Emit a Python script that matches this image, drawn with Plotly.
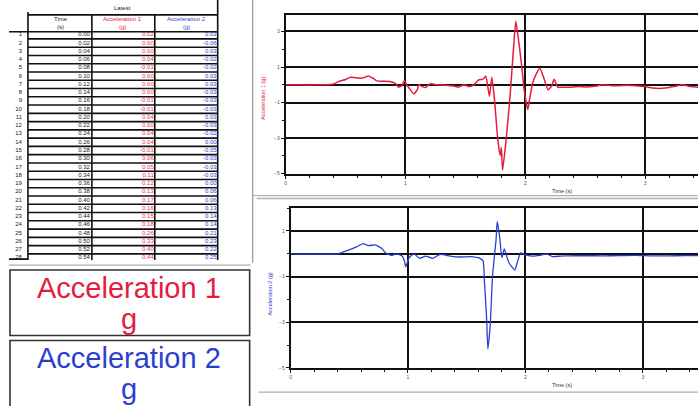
import plotly.graph_objects as go

W, H = 698, 406
FONT = "Liberation Sans, Arial, sans-serif"
RED = "#e41c3e"
BLUE = "#2a3fd0"

# ---------------- table data ----------------
row_nums = [str(i) for i in range(1, 29)]
time_col = [0.00, 0.02, 0.04, 0.06, 0.08, 0.10, 0.12, 0.14, 0.16, 0.18,
            0.20, 0.22, 0.24, 0.26, 0.28, 0.30, 0.32, 0.34, 0.36, 0.38,
            0.40, 0.42, 0.44, 0.46, 0.48, 0.50, 0.52, 0.54]
acc1_col = [0.02, 0.00, 0.00, 0.04, -0.01, 0.00, 0.00, 0.00, -0.01, -0.01,
            0.04, 0.00, 0.04, 0.04, -0.01, 0.06, 0.05, 0.11, 0.12, 0.13,
            0.17, 0.16, 0.15, 0.18, 0.26, 0.33, 0.40, 0.44]
acc2_col = [0.03, -0.06, 0.03, -0.02, -0.02, 0.03, 0.03, -0.03, -0.03, -0.03,
            0.03, -0.03, -0.02, 0.00, -0.05, -0.03, -0.03, -0.03, 0.00, 0.06,
            0.06, 0.13, 0.14, 0.14, 0.21, 0.23, 0.22, 0.25]

# ---------------- chart data ----------------
t1 = [0.00, 0.32, 0.40, 0.44, 0.50, 0.54, 0.58, 0.62, 0.66, 0.69,
      0.73, 0.76, 0.80, 0.87, 0.92, 0.94, 0.97, 0.99, 1.01, 1.03,
      1.07, 1.10, 1.11, 1.14, 1.17, 1.19, 1.22, 1.26, 1.30, 1.37,
      1.41, 1.44, 1.49, 1.53, 1.57, 1.61, 1.65, 1.67, 1.70, 1.72,
      1.74, 1.77, 1.79, 1.80, 1.81, 1.84, 1.87, 1.90, 1.92, 1.94,
      1.97, 1.99, 2.02, 2.03, 2.06, 2.09, 2.12, 2.15, 2.19, 2.22,
      2.24, 2.27, 2.32, 2.37, 2.45, 2.50, 2.58, 2.64, 2.72, 2.78,
      2.85, 2.92, 3.00, 3.06, 3.14, 3.20, 3.25, 3.31, 3.38, 3.44]
a1 = [0.00, 0.00, 0.05, 0.18, 0.30, 0.43, 0.40, 0.37, 0.42, 0.50,
      0.37, 0.22, 0.20, 0.19, 0.05, -0.13, -0.05, 0.24, 0.00, -0.18,
      -0.52, -0.26, 0.00, -0.10, -0.15, 0.00, 0.06, 0.00, 0.00, -0.05,
      -0.08, -0.13, 0.00, -0.10, 0.00, 0.28, 0.33, 0.50, -0.65, 0.43,
      -0.65, -3.06, -3.98, -3.52, -4.81, -3.06, -0.83, 1.94, 3.57, 2.69,
      1.02, -0.28, -1.39, -1.02, 0.09, 0.60, 0.93, 0.46, -0.28, -0.05,
      0.31, -0.13, -0.13, -0.13, -0.10, -0.12, -0.08, 0.00, -0.05, -0.05,
      -0.03, -0.05, -0.10, -0.18, -0.20, -0.15, -0.08, 0.00, -0.10, -0.13]

t2 = [0.00, 0.40, 0.45, 0.51, 0.56, 0.62, 0.66, 0.72, 0.78, 0.81,
      0.86, 0.90, 0.95, 0.97, 0.98, 1.01, 1.05, 1.10, 1.15, 1.21,
      1.27, 1.36, 1.44, 1.53, 1.61, 1.64, 1.65, 1.67, 1.68, 1.70,
      1.72, 1.75, 1.76, 1.78, 1.80, 1.82, 1.84, 1.86, 1.91, 1.93,
      1.96, 1.99, 2.06, 2.12, 2.18, 2.23, 2.30, 2.37, 2.50, 2.66,
      2.80, 2.94, 3.08, 3.22, 3.35, 3.47]
a2 = [0.00, 0.00, 0.08, 0.19, 0.30, 0.45, 0.36, 0.39, 0.22, 0.04,
      -0.07, 0.00, -0.10, -0.32, -0.57, -0.17, 0.00, -0.20, -0.10, -0.20,
      -0.03, -0.10, -0.14, -0.12, -0.19, -0.32, -1.12, -2.86, -4.16, -3.14,
      -0.97, 0.62, 1.42, 0.77, -0.17, 0.22, -0.10, -0.39, -0.71, -0.39,
      0.04, -0.03, -0.10, -0.07, 0.00, -0.12, -0.10, -0.09, -0.08, -0.09,
      -0.08, -0.07, -0.09, -0.09, -0.08, -0.08]


def px(x):
    return x / W


def py(y):
    return 1 - y / H


fig = go.Figure()

# ---- charts ----
fig.add_trace(go.Scatter(x=t1, y=a1, mode="lines", xaxis="x", yaxis="y",
                         line=dict(color=RED, width=1.5, shape="spline", smoothing=0.5),
                         showlegend=False, hoverinfo="skip"))
fig.add_trace(go.Scatter(x=t2, y=a2, mode="lines", xaxis="x2", yaxis="y2",
                         line=dict(color=BLUE, width=1.3, shape="spline", smoothing=0.5),
                         showlegend=False, hoverinfo="skip"))

# ---- table text ----
ROW0, ROWH = 35.0, 8.33
TBOT = 262
row_y = [ROW0 + i * ROWH for i in range(len(row_nums))]
tfont = dict(family=FONT, size=6)
fig.add_trace(go.Scatter(x=[21] * len(row_nums), y=row_y, text=row_nums, mode="text",
                         textposition="middle left", textfont=dict(tfont, color="#222"),
                         xaxis="x3", yaxis="y3", showlegend=False, hoverinfo="skip"))
fig.add_trace(go.Scatter(x=[89] * len(time_col), y=row_y, text=[f"{v:.2f}" for v in time_col],
                         mode="text", textposition="middle left", textfont=dict(tfont, color="#222"),
                         xaxis="x3", yaxis="y3", showlegend=False, hoverinfo="skip"))
fig.add_trace(go.Scatter(x=[153] * len(acc1_col), y=row_y, text=[f"{v:.2f}" for v in acc1_col],
                         mode="text", textposition="middle left", textfont=dict(tfont, color="#f0304e"),
                         xaxis="x3", yaxis="y3", showlegend=False, hoverinfo="skip"))
fig.add_trace(go.Scatter(x=[216] * len(acc2_col), y=row_y, text=[f"{v:.2f}" for v in acc2_col],
                         mode="text", textposition="middle left", textfont=dict(tfont, color="#3040e0"),
                         xaxis="x3", yaxis="y3", showlegend=False, hoverinfo="skip"))

shapes = []
TL = dict(color="#111", width=1.6)


def tline(x0, y0, x1, y1, line=TL):
    shapes.append(dict(type="line", xref="x3", yref="y3", x0=x0, y0=y0, x1=x1, y1=y1, line=line))


for xv, y0 in [(27, 12), (91, 15), (154, 15), (217, 0)]:
    tline(xv, y0, xv, TBOT)
tline(27, 15, 217, 15)
tline(8, 32, 217, 32)
for i in range(len(row_nums) - 1):
    tline(27, ROW0 + 4.2 + i * ROWH, 217, ROW0 + 4.2 + i * ROWH)
tline(8, 261, 27, 261, dict(color="#111", width=1.8))


def pline(x0, y0, x1, y1, color="#b0b0b0", width=1.3):
    shapes.append(dict(type="line", xref="paper", yref="paper", x0=px(x0), y0=py(y0),
                       x1=px(x1), y1=py(y1), line=dict(color=color, width=width)))


pline(8, 267, 250, 267)
pline(252, 0, 252, 265, color="#9a9a9a")
pline(252, 197, 698, 197)
pline(256, 200, 698, 200)
pline(258, 395, 698, 395)

for y0, y1 in [(272, 338), (343, 414)]:
    shapes.append(dict(type="rect", xref="paper", yref="paper", x0=px(9), x1=px(249),
                       y0=py(y1), y1=py(y0), line=dict(color="#333", width=1.6)))

annotations = []


def tann(text, x, y, color, size=6):
    annotations.append(dict(text=text, x=x, y=y, xref="x3", yref="y3", showarrow=False,
                            font=dict(family=FONT, size=size, color=color),
                            xanchor="center", yanchor="middle"))


tann("Latest", 122, 8, "#222")
tann("Time", 60, 19.5, "#222")
tann("(s)", 60, 27, "#222")
tann("Acceleration 1", 122, 19.5, RED)
tann("(g)", 122, 27, RED)
tann("Acceleration 2", 186, 19.5, BLUE)
tann("(g)", 186, 27, BLUE)


def pann(text, x, y, color, size, angle=0):
    annotations.append(dict(text=text, x=px(x), y=py(y), xref="paper", yref="paper",
                            showarrow=False, textangle=angle,
                            font=dict(family=FONT, size=size, color=color),
                            xanchor="center", yanchor="middle"))


pann("Acceleration 1", 128, 290, RED, 29)
pann("g", 128, 321, RED, 29)
pann("Acceleration 2", 128, 361, BLUE, 29)
pann("g", 128, 392, BLUE, 29)
pann("Acceleration 1 (g)", 263, 99, RED, 5.5, -90)
pann("Acceleration 2 (g)", 269, 296, BLUE, 5.5, -90)
pann("Time (s)", 562, 192, "#333", 5.5)
pann("Time (s)", 562, 388, "#333", 5.5)

tick_font = dict(family=FONT, size=5, color="#555")


def xax(domain, rng):
    return dict(domain=domain, range=rng, tick0=0, dtick=1, showgrid=True, gridcolor="#111",
                gridwidth=1.8, zeroline=False, showline=True, linecolor="#111", linewidth=1.6,
                mirror=True, ticks="outside", ticklen=3, tickcolor="#111", tickfont=tick_font,
                minor=dict(dtick=0.2, ticks="outside", ticklen=2, tickcolor="#111", showgrid=False),
                fixedrange=True)


def yax(domain, rng, anchor):
    return dict(domain=domain, range=rng, tick0=1, dtick=2, showgrid=True, gridcolor="#111",
                gridwidth=1.8, zeroline=True, zerolinecolor="#111", zerolinewidth=1.8,
                showline=True, linecolor="#111", linewidth=1.6, ticks="outside", ticklen=3,
                tickcolor="#111", tickfont=tick_font, anchor=anchor,
                minor=dict(dtick=1, ticks="outside", ticklen=2, tickcolor="#111", showgrid=False),
                fixedrange=True)


fig.update_layout(
    width=W, height=H, margin=dict(l=0, r=0, t=0, b=0),
    paper_bgcolor="white", plot_bgcolor="rgba(0,0,0,0)",
    showlegend=False,
    xaxis=dict(xax([px(285), 1.0], [0, 3.44]), anchor="y"),
    yaxis=yax([py(175), py(14.7)], [-5, 3.95], "x"),
    xaxis2=dict(xax([px(290), 1.0], [0, 3.47]), anchor="y2"),
    yaxis2=yax([py(370.7), py(209.7)], [-5, 2], "x2"),
    xaxis3=dict(domain=[0, px(250)], range=[0, 250], visible=False, anchor="y3", fixedrange=True),
    yaxis3=dict(domain=[py(TBOT), 1.0], range=[TBOT, 0], visible=False, anchor="x3", fixedrange=True),
    shapes=shapes, annotations=annotations,
)

fig.write_html("out.html", config={"displayModeBar": False})
